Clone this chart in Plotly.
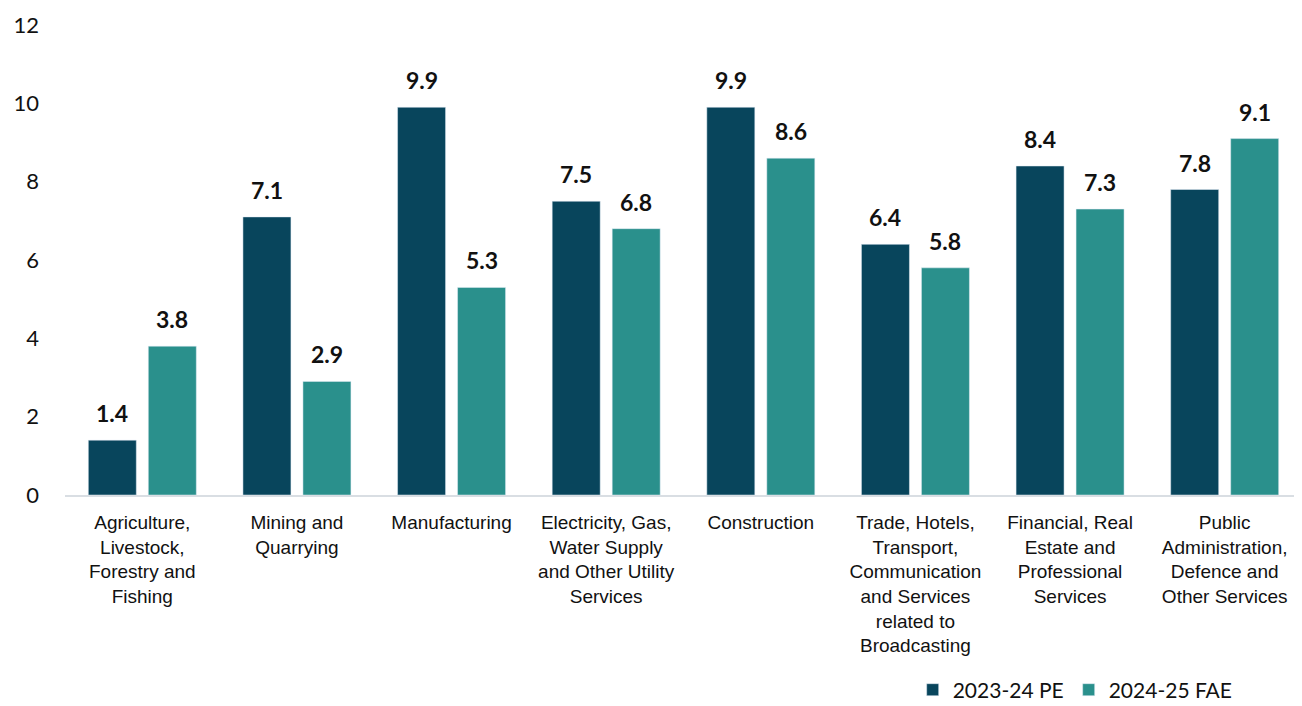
import plotly.graph_objects as go

categories = [
    "Agriculture,<br>Livestock,<br>Forestry and<br>Fishing",
    "Mining and<br>Quarrying",
    "Manufacturing",
    "Electricity, Gas,<br>Water Supply<br>and Other Utility<br>Services",
    "Construction",
    "Trade, Hotels,<br>Transport,<br>Communication<br>and Services<br>related to<br>Broadcasting",
    "Financial, Real<br>Estate and<br>Professional<br>Services",
    "Public<br>Administration,<br>Defence and<br>Other Services",
]
pe_2023_24 = [1.4, 7.1, 9.9, 7.5, 9.9, 6.4, 8.4, 7.8]
fae_2024_25 = [3.8, 2.9, 5.3, 6.8, 8.6, 5.8, 7.3, 9.1]
series_names = ["2023-24 PE", "2024-25 FAE"]
colors = ["#08455C", "#2A908C"]
y_ticks = [0, 2, 4, 6, 8, 10, 12]

fig = go.Figure()
series = [pe_2023_24, fae_2024_25]
for name, vals, col in zip(series_names, series, colors):
    fig.add_trace(go.Bar(
        x=categories, y=vals, name=name, marker_color=col,
    ))

# data labels above each bar (offset to each bar's slot in the group)
for j, vals in enumerate(series):
    xs = -30 if j == 0 else 30
    for cat, v in zip(categories, vals):
        fig.add_annotation(
            x=cat, y=v, xref="x", yref="y", text=f"<b>{v:.1f}</b>",
            showarrow=False, xshift=xs, yshift=27, yanchor="middle",
            font=dict(family="Lato, Carlito, sans-serif", size=23, color="#111111"),
        )

fig.update_layout(
    barmode="group",
    bargap=0.224,
    bargroupgap=0.2,
    width=1294, height=698,
    margin=dict(l=57, r=0, t=17, b=211, autoexpand=False),
    plot_bgcolor="white", paper_bgcolor="white",
    showlegend=True,
    legend=dict(orientation="h", x=0.948, xanchor="right", y=-0.415, yanchor="middle",
                font=dict(family="Lato, sans-serif", size=21, color="#111111"),
                itemwidth=30, traceorder="normal"),
    xaxis=dict(showline=True, linecolor="#D9DEE3", linewidth=2, ticks="",
               automargin=False, ticklabelstandoff=9,
               tickfont=dict(family="Liberation Sans, Arial, sans-serif", size=19, color="#111111"),
               tickangle=0),
    yaxis=dict(range=[0, 12], tickvals=y_ticks, showgrid=False, zeroline=False,
               showline=False, ticks="", ticklabelstandoff=25, automargin=False,
               tickfont=dict(family="Lato, sans-serif", size=22, color="#111111")),
)

fig.write_html("out.html")
